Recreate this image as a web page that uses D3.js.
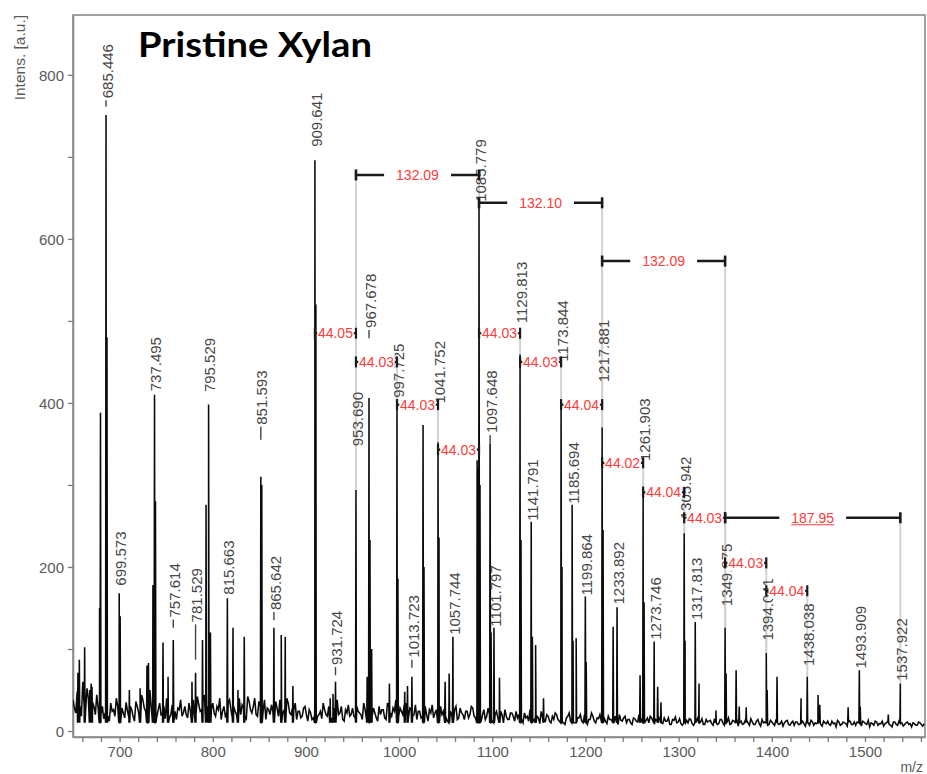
<!DOCTYPE html>
<html><head><meta charset="utf-8">
<script src="https://cdn.jsdelivr.net/npm/d3@7/dist/d3.min.js"></script>
<style>body{margin:0;background:#fff}</style>
</head><body>
<svg id="c" width="927" height="774"></svg>
<script>
// ---------------- data ----------------
const title = "Pristine Xylan";
const yAxisTitle = "Intens. [a.u.]";
const xAxisTitle = "m/z";
const xTickValues = [700, 800, 900, 1000, 1100, 1200, 1300, 1400, 1500];
const yTickValues = [0, 200, 400, 600, 800];

// labelled peaks (m/z, intensity)
const labeledMz = [685.446, 699.573, 737.495, 757.614, 781.529, 795.529, 815.663, 851.593, 865.642, 909.641,
  931.724, 953.690, 967.678, 997.725, 1013.723, 1041.752, 1057.744, 1085.779, 1097.648, 1101.797,
  1129.813, 1141.791, 1173.844, 1185.694, 1199.864, 1217.881, 1233.892, 1261.903, 1273.746, 1305.942,
  1317.813, 1349.875, 1394.041, 1438.038, 1493.909, 1537.922];
const labeledInt = [751, 168, 410, 111, 71, 398, 162, 310, 126, 696,
  60, 294, 406, 404, 66, 352, 115, 640, 350, 126,
  459, 255, 403, 276, 164, 370, 151, 298, 109, 241,
  133, 126, 95, 66, 74, 58];
// intensity level where each label (or its leader dash) starts, and leader length (intensity units)
const labelBase = [761, 176, 413, 126, 87, 412, 165, 355, 135, 711,
  68, 346, 479, 405, 77, 398, 116, 644, 349, 126,
  496, 255, 449, 276, 164, 424, 153, 328, 110, 257,
  134, 151, 109, 78, 75, 60];
const labelLead = [8, 0, 0, 10, 43, 0, 0, 16, 10, 0,
  10, 0, 10, 0, 10, 0, 0, 0, 12, 0,
  0, 0, 0, 0, 0, 0, 0, 0, 0, 0,
  0, 0, 0, 0, 0, 0];

// unlabelled peaks
const minorMz = [655.3, 656.8, 662.5, 668, 670.4, 678.5, 679.5, 686.45, 700.6, 710.5,
  722, 729.4, 731, 735.8, 738.5, 746.6, 752, 777.7, 789, 792.8,
  797.5, 821.7, 827, 833.8, 852.6, 873.5, 877.8, 886, 910.65, 926,
  929, 965.7, 968.7, 970.5, 989.6, 998.7, 1006, 1009, 1025.7, 1026.7,
  1042.8, 1049.4, 1053.7, 1083.7, 1084.7, 1086.8, 1098.7, 1107.7, 1130.8, 1143,
  1146.5, 1155, 1174.8, 1186.7, 1190, 1200.8, 1218.9, 1229.7, 1258.6, 1262.9,
  1277.5, 1281, 1306.9, 1321.9, 1340, 1350.9, 1361.7, 1365, 1372.5, 1395,
  1405.6, 1431.4, 1449.6, 1451.5, 1481.9, 1494.9, 1525];
const minorInt = [71, 87, 102, 50, 54, 150, 388, 480, 140, 50,
  52, 80, 83, 178, 280, 108, 66, 60, 111, 276,
  120, 126, 50, 115, 300, 117, 115, 55, 520, 40,
  45, 66, 233, 100, 58, 186, 48, 55, 373, 200,
  236, 60, 70, 330, 320, 300, 120, 65, 233, 115,
  105, 40, 200, 110, 113, 84, 245, 127, 68, 157,
  54, 35, 110, 58, 25, 70, 74, 30, 29, 50,
  66, 40, 44, 32, 29, 30, 20];

// baseline noise, read every 3 m/z from 650 (A) and from 651.5 (B)
const baseStart = 650, baseStep = 3, baseOffsetB = 1.5;
const baseValsA = [
  38, 22, 45, 18, 30, 52, 25, 35, 20, 28,
  20, 15, 28, 12, 24, 18, 30, 14, 22, 35,
  16, 26, 12, 30, 20, 38, 24, 40, 28, 32,
  18, 34, 22, 15, 28, 20, 36, 14, 26, 18,
  30, 16, 24, 38, 20, 32, 26, 44, 30, 22,
  34, 18, 26, 14, 30, 22, 38, 16, 24, 32,
  20, 28, 15, 36, 22, 40, 18, 30, 24, 14,
  26, 32, 18, 28, 38, 22, 16, 34, 20, 26,
  14, 24, 18, 30, 12, 22, 16, 28, 20, 15,
  26, 18, 32, 14, 24, 20, 30, 12, 22, 18,
  28, 16, 24, 20, 34, 14, 26, 18, 22, 12,
  20, 26, 14, 30, 18, 24, 12, 28, 20, 34,
  16, 26, 20, 14, 24, 18, 30, 12, 22, 16,
  26, 14, 20, 28, 12, 24, 18, 30, 16, 22,
  14, 24, 20, 28, 16, 22, 12, 26, 18, 20,
  12, 20, 16, 24, 10, 18, 14, 22, 12, 16,
  20, 10, 16, 12, 22, 14, 18, 9, 16, 12,
  18, 10, 14, 20, 12, 16, 8, 18, 12, 14,
  10, 16, 12, 20, 8, 14, 18, 10, 15, 12,
  16, 9, 14, 11, 18, 8, 13, 16, 10, 14,
  8, 15, 11, 17, 9, 13, 10, 16, 8, 12,
  14, 9, 12, 16, 8, 13, 10, 15, 7, 12,
  10, 14, 7, 12, 9, 15, 8, 11, 13, 7,
  12, 9, 14, 7, 11, 8, 13, 10, 6, 12,
  9, 13, 7, 11, 8, 14, 6, 10, 12, 8,
  11, 7, 13, 9, 6, 12, 8, 10, 7, 11,
  8, 12, 6, 10, 13, 7, 9, 11, 6, 10,
  12, 7, 9, 5, 11, 8, 10, 6, 12, 8,
  7, 10, 6, 11, 8, 5, 9, 12, 7, 9,
  6, 10, 8, 5, 11, 7, 9, 6, 10, 8,
  5, 9, 7, 10, 6];
const baseValsB = [
  28, 48, 30, 60, 24, 40, 58, 30, 44, 26,
  30, 22, 18, 34, 26, 40, 20, 28, 16, 24,
  30, 18, 36, 22, 44, 28, 34, 50, 22, 38,
  26, 20, 30, 40, 16, 32, 24, 28, 38, 22,
  20, 34, 28, 18, 42, 24, 36, 30, 48, 26,
  22, 30, 40, 24, 18, 34, 26, 30, 20, 40,
  32, 18, 42, 26, 30, 20, 36, 22, 38, 28,
  20, 24, 36, 18, 30, 26, 40, 22, 28, 34,
  24, 16, 28, 20, 26, 14, 30, 18, 24, 34,
  20, 30, 16, 28, 38, 22, 14, 26, 32, 20,
  18, 30, 22, 14, 26, 36, 20, 28, 16, 30,
  26, 16, 34, 22, 28, 38, 18, 24, 32, 20,
  28, 18, 32, 24, 16, 28, 20, 26, 32, 22,
  18, 30, 24, 16, 34, 20, 26, 14, 28, 20,
  24, 16, 30, 18, 26, 32, 20, 14, 28, 24,
  18, 24, 12, 20, 26, 14, 22, 18, 24, 20,
  14, 22, 18, 26, 12, 20, 16, 24, 14, 20,
  12, 18, 22, 14, 20, 10, 16, 22, 18, 10,
  16, 20, 10, 18, 14, 22, 12, 16, 20, 14,
  12, 18, 14, 10, 16, 20, 12, 18, 14, 10,
  16, 12, 20, 14, 10, 16, 18, 12, 14, 17,
  10, 16, 12, 8, 14, 17, 11, 9, 15, 13,
  15, 9, 13, 16, 11, 8, 14, 12, 9, 15,
  8, 14, 10, 13, 16, 9, 12, 14, 10, 8,
  13, 10, 15, 8, 12, 9, 14, 11, 7, 13,
  9, 14, 8, 12, 10, 13, 7, 12, 11, 8,
  12, 9, 13, 7, 11, 10, 14, 8, 12, 9,
  8, 12, 10, 13, 7, 11, 9, 13, 8, 11,
  11, 8, 12, 9, 13, 10, 7, 11, 9, 12,
  9, 12, 7, 11, 8, 12, 10, 8, 11, 9,
  10, 7, 11, 8, 9];

// mass-difference annotations
const bracketFrom = [953.690, 1085.779, 1217.881, 1349.875, 909.641, 953.690, 997.725, 1041.752,
  1085.779, 1129.813, 1173.844, 1217.881, 1261.903, 1305.942, 1349.875, 1394.041];
const bracketTo = [1085.779, 1217.881, 1349.875, 1537.922, 953.690, 997.725, 1041.752, 1085.779,
  1129.813, 1173.844, 1217.881, 1261.903, 1305.942, 1349.875, 1394.041, 1438.038];
const bracketLevel = [678, 644, 573, 260, 485, 450, 398, 343, 485, 450, 398, 327, 291, 260, 205, 171];
const bracketText = ["132.09", "132.10", "132.09", "187.95", "44.05", "44.03", "44.03", "44.03",
  "44.03", "44.03", "44.04", "44.02", "44.04", "44.03", "44.03", "44.04"];
const bracketUnderline = ["187.95"];

// ---------------- drawing ----------------
const FONT = "'Liberation Sans', Arial, sans-serif";
const svg = d3.select("#c");
const L = 73, R = 925, T = 15, B = 737;
const x = d3.scaleLinear().domain([650, 1564.4]).range([L, R]);
const y = d3.scaleLinear().domain([-7.3, 873]).range([B, T]);

svg.append("rect").attr("width", 927).attr("height", 774).attr("fill", "#fff");

svg.append("defs").append("clipPath").attr("id", "plot")
  .append("rect").attr("x", L).attr("y", T).attr("width", R - L).attr("height", B - T);

// frame
svg.append("rect").attr("x", L).attr("y", T).attr("width", R - L).attr("height", B - T)
  .attr("fill", "none").attr("stroke", "#8a8a8a").attr("stroke-width", 1.6);

// axes
const gx = svg.append("g").attr("transform", `translate(0,${B})`)
  .call(d3.axisBottom(x).tickValues(d3.range(660, 1561, 20)).tickSize(5).tickSizeOuter(0)
    .tickPadding(4).tickFormat(d => xTickValues.includes(d) ? d : ""));
const gy = svg.append("g").attr("transform", `translate(${L},0)`)
  .call(d3.axisLeft(y).tickValues(d3.range(0, 801, 100)).tickSize(5).tickSizeOuter(0)
    .tickPadding(4).tickFormat(d => yTickValues.includes(d) ? d : ""));
[gx, gy].forEach(g => {
  g.select(".domain").attr("stroke", "#8a8a8a").attr("stroke-width", 1.6);
  g.selectAll(".tick line").attr("stroke", "#7a7a7a").attr("stroke-width", 1.3);
  g.selectAll(".tick text").attr("font-family", FONT).attr("font-size", 15).attr("fill", "#5a5a5a");
});
gy.selectAll(".tick text").attr("dy", "0.36em");

svg.append("text").attr("transform", `translate(25,${T}) rotate(-90)`)
  .attr("text-anchor", "end").attr("font-family", FONT).attr("font-size", 15.5)
  .attr("fill", "#5a5a5a").text(yAxisTitle);
svg.append("text").attr("x", 923).attr("y", 772).attr("text-anchor", "end")
  .attr("font-family", FONT).attr("font-size", 14).attr("fill", "#5a5a5a").text(xAxisTitle);

// lookup of labelled peak intensity
const intOf = mz => labeledInt[labeledMz.indexOf(mz)];

// grey drop lines from annotations to peaks
const drops = svg.append("g").attr("clip-path", "url(#plot)");
bracketFrom.forEach((f, i) => {
  [f, bracketTo[i]].forEach(m => {
    const h = intOf(m);
    if (h < bracketLevel[i]) {
      drops.append("line").attr("x1", x(m)).attr("x2", x(m))
        .attr("y1", y(bracketLevel[i])).attr("y2", y(h))
        .attr("stroke", "#d2d2d2").attr("stroke-width", 2);
    }
  });
});

// spectrum
const pts = baseValsA.map((v, i) => [baseStart + i * baseStep, v])
  .concat(baseValsB.map((v, i) => [baseStart + baseOffsetB + i * baseStep, v]));
const allMz = labeledMz.concat(minorMz), allInt = labeledInt.concat(minorInt);
allMz.forEach((m, i) => { pts.push([m - 0.45, 10], [m, allInt[i]], [m + 0.45, 10]); });
pts.sort((a, b) => a[0] - b[0]);
svg.append("path").attr("clip-path", "url(#plot)")
  .attr("d", d3.line().x(d => x(d[0])).y(d => y(d[1]))(pts))
  .attr("fill", "none").attr("stroke", "#0a0a0a").attr("stroke-width", 1.55)
  .attr("stroke-linejoin", "miter");

// peak labels
const lab = svg.append("g");
labeledMz.forEach((m, i) => {
  const px = x(m);
  const b = labelBase[i], ld = labelLead[i];
  if (ld > 0) {
    lab.append("line").attr("x1", px).attr("x2", px).attr("y1", y(b)).attr("y2", y(b + ld))
      .attr("stroke", "#444").attr("stroke-width", 1.4);
  }
  const ty = y(b + ld) - (ld > 0 ? 2 : 1);
  lab.append("text").attr("transform", `translate(${px + 1.2},${ty}) rotate(-90)`)
    .attr("dy", "0.36em").attr("font-family", FONT).attr("font-size", 15).attr("fill", "#464646")
    .text(m.toFixed(3));
});

// annotations
const ann = svg.append("g");
bracketFrom.forEach((f, i) => {
  const x1 = x(f), x2 = x(bracketTo[i]), yy = y(bracketLevel[i]);
  const big = bracketText[i].startsWith("1");
  const sw = big ? 2.6 : 2.2;
  ann.append("line").attr("x1", x1).attr("x2", x2).attr("y1", yy).attr("y2", yy)
    .attr("stroke", "#1a1a1a").attr("stroke-width", sw);
  [x1, x2].forEach(xx => ann.append("line").attr("x1", xx).attr("x2", xx)
    .attr("y1", yy - 5.5).attr("y2", yy + 5.5).attr("stroke", "#1a1a1a").attr("stroke-width", sw));
  const t = ann.append("text").attr("x", (x1 + x2) / 2).attr("y", yy).attr("dy", "0.36em")
    .attr("text-anchor", "middle").attr("font-family", FONT).attr("font-size", 14)
    .attr("fill", "#ff3b3b").text(bracketText[i]);
  const tw = t.node().getComputedTextLength();
  const rw = Math.min(tw + 24, (x2 - x1) - 4.5);
  ann.insert("rect", function () { return t.node(); })
    .attr("x", (x1 + x2) / 2 - rw / 2).attr("y", yy - 8).attr("width", rw).attr("height", 16)
    .attr("fill", "#fff");
  if (bracketUnderline.includes(bracketText[i])) {
    ann.append("line").attr("x1", (x1 + x2) / 2 - tw / 2).attr("x2", (x1 + x2) / 2 + tw / 2)
      .attr("y1", yy + 7).attr("y2", yy + 7).attr("stroke", "#ff3b3b").attr("stroke-width", 1);
  }
});

// title
svg.append("text").attr("x", 138).attr("y", 57).attr("font-family", "Lato, 'Open Sans', sans-serif")
  .attr("font-weight", 700).attr("font-size", 35).attr("fill", "#000")
  .attr("textLength", 234).attr("lengthAdjust", "spacingAndGlyphs").text(title);
</script>
</body></html>
